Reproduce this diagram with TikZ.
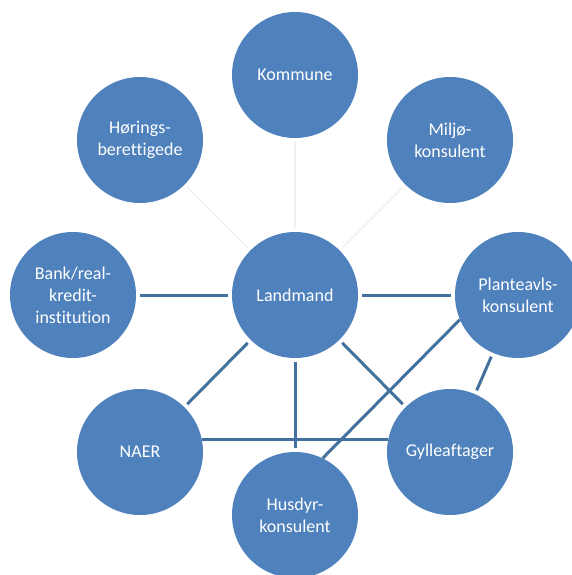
\documentclass[tikz,border=0pt]{standalone}
\usepackage{fontspec}
\setmainfont[Ligatures=NoCommon]{Carlito}
\usepackage{xcolor}
\usepackage{tikz}
\definecolor{figblue}{HTML}{4F81BD}
\definecolor{figline}{HTML}{41719C}
\definecolor{figfaint}{HTML}{F0F0F0}
\tikzset{
  actor/.style={circle,fill=figblue,draw=none,minimum size=126pt,inner sep=0pt,
    align=center,text=white,font=\fontsize{18}{22}\selectfont},
  link/.style={draw=figline,line width=3pt,shorten <=4pt,shorten >=4pt},
  faintlink/.style={draw=figfaint,line width=1.2pt,shorten <=4pt,shorten >=4pt}
}
\begin{document}
\begin{tikzpicture}[x=1pt,y=-1pt]
    \useasboundingbox (0,0) rectangle (572,575);
    \node[actor] (kommune) at (295,75) {Kommune};
    \node[actor] (horing) at (140,140) {Hørings-\\berettigede};
    \node[actor] (miljo) at (450,140) {Miljø-\\konsulent};
    \node[actor] (bank) at (73,295) {Bank/real-\\kredit-\\institution};
    \node[actor] (land) at (295,295) {Landmand};
    \node[actor] (plante) at (518,295) {Planteavls-\\konsulent};
    \node[actor] (naer) at (140,452) {NAER};
    \node[actor] (gylle) at (450,452) {Gylleaftager};
    \node[actor] (husdyr) at (295,515) {Husdyr-\\konsulent};
    % faint links
    \draw[faintlink] (land) -- (kommune);
    \draw[faintlink] (land) -- (horing);
    \draw[faintlink] (land) -- (miljo);
    % links
    \draw[link] (bank) -- (land);
    \draw[link] (land) -- (plante);
    \draw[link] (land) -- (naer);
    \draw[link] (land) -- (husdyr);
    \draw[link] (land) -- (gylle);
    \draw[link,shorten <=0pt,shorten >=0pt] (naer.11) -- (gylle.169);
    \draw[link,shorten <=0pt,shorten >=0pt] (plante.203) -- (husdyr.64);
    \draw[link] (plante) -- (gylle);
  \end{tikzpicture}
\end{document}
